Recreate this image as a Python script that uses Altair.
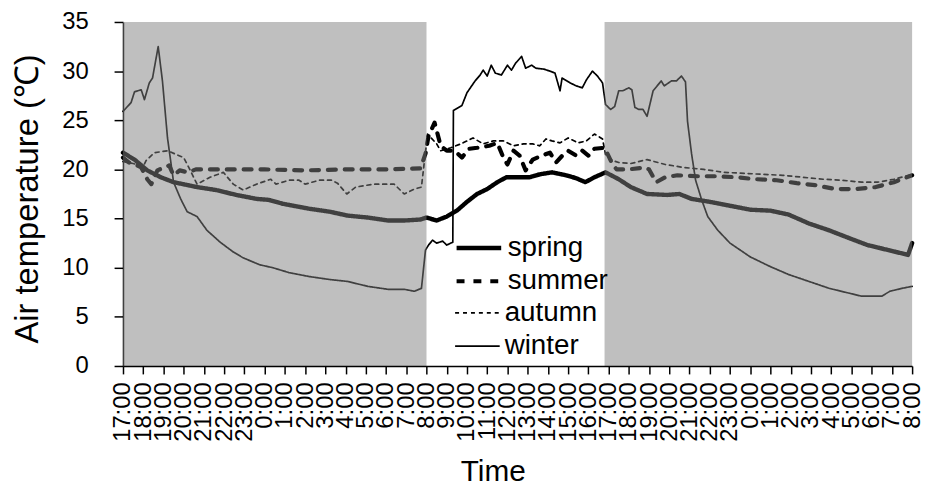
import altair as alt
import pandas as pd

seasons = ["spring", "summer", "autumn", "winter"]
line_widths = [4.4, 4.2, 1.7, 1.7]
line_dashes = [[1, 0], [8, 9], [4, 4], [1, 0]]

# hours after 17:00 of the first day (0 = 17:00, 15 = 8:00, 39 = 8:00 of the following morning)
spring_h = [0.0, 0.57, 1.2, 1.87, 2.5, 3.66, 4.6, 5.6, 6.6, 7.2, 7.9, 9.2, 10.2, 11.1, 12.1, 13.1, 13.9, 14.7,
            15.0, 15.5, 16.0, 16.5, 17.0, 17.5, 18.0, 18.5, 18.95, 20.1, 20.6, 21.2, 21.9, 22.4, 22.85, 23.3,
            23.85, 24.5, 25.1, 25.9, 26.9, 27.5, 28.1, 29.0, 30.0, 31.0, 32.0, 32.9, 33.9, 34.9, 35.9, 36.8,
            37.8, 38.8, 39.0]
spring_t = [21.7, 21.0, 19.9, 19.2, 18.7, 18.2, 17.9, 17.4, 17.0, 16.9, 16.5, 16.0, 15.7, 15.3, 15.1, 14.8, 14.8,
            14.9, 15.1, 14.8, 15.2, 15.8, 16.7, 17.5, 18.0, 18.7, 19.2, 19.2, 19.5, 19.7, 19.4, 19.1, 18.7, 19.2,
            19.7, 19.0, 18.2, 17.5, 17.4, 17.5, 17.0, 16.7, 16.3, 15.9, 15.8, 15.4, 14.5, 13.8, 13.0, 12.3,
            11.8, 11.3, 12.5]

summer_h = [0.0, 0.3, 0.6, 0.9, 1.2, 1.4, 1.7, 2.28, 2.5, 2.8, 3.2, 3.6, 5.0, 7.0, 9.0, 11.0, 13.0, 14.7, 14.95,
            15.1, 15.4, 15.7, 16.0, 16.4, 16.75, 17.1, 17.5, 18.1, 18.5, 18.8, 19.0, 19.3, 19.6, 19.9, 20.25,
            20.7, 21.1, 21.4, 21.8, 22.0, 22.4, 22.7, 23.0, 23.3, 23.8, 24.2, 24.4, 25.0, 25.8, 26.0, 26.35,
            26.8, 27.4, 28.4, 29.4, 30.3, 31.3, 32.3, 33.3, 34.2, 35.2, 36.2, 37.2, 38.1, 39.0]
summer_t = [21.2, 20.7, 20.5, 20.2, 19.0, 18.5, 19.9, 20.4, 19.4, 19.9, 19.7, 20.0, 20.0, 20.0, 19.9, 20.0, 20.0,
            20.1, 21.6, 23.4, 24.75, 22.4, 21.9, 21.9, 21.2, 22.1, 22.2, 22.4, 22.7, 21.2, 20.5, 21.9, 21.4,
            19.9, 21.0, 21.4, 21.7, 20.7, 21.6, 21.9, 21.4, 21.9, 21.4, 22.1, 22.2, 20.5, 20.0, 20.0, 20.2,
            20.0, 18.7, 19.2, 19.4, 19.3, 19.3, 19.2, 19.0, 18.9, 18.6, 18.4, 18.0, 18.0, 18.2, 18.7, 19.4]

autumn_h = [0.0, 0.5, 1.0, 1.14, 1.55, 2.2, 3.0, 3.25, 3.66, 4.3, 4.96, 5.45, 5.94, 6.6, 7.3, 7.56, 8.2, 8.7,
            9.0, 9.7, 10.3, 10.6, 11.06, 11.5, 12.4, 13.4, 13.9, 14.4, 14.75, 15.05, 15.5, 15.7, 16.2, 16.7,
            17.0, 17.3, 17.8, 18.3, 18.8, 19.3, 19.8, 20.25, 20.6, 20.9, 21.2, 21.6, 22.0, 22.5, 22.9, 23.3,
            23.7, 23.85, 24.2, 24.5, 25.1, 25.9, 26.8, 27.7, 28.7, 29.7, 30.7, 31.6, 32.6, 33.6, 34.6, 35.5,
            36.5, 37.3, 38.1, 39.0]
autumn_t = [20.8, 20.6, 20.3, 20.9, 21.7, 21.9, 21.2, 20.2, 18.5, 19.2, 19.7, 18.5, 17.9, 18.5, 19.0, 18.5,
            18.9, 18.9, 18.5, 18.9, 18.9, 18.6, 17.5, 18.2, 18.5, 18.5, 17.5, 18.0, 18.2, 23.6, 22.6, 21.9,
            22.2, 22.6, 22.9, 23.2, 22.6, 22.9, 22.9, 22.4, 22.6, 22.6, 22.4, 23.1, 22.9, 22.7, 23.2, 22.7,
            22.9, 23.6, 23.1, 21.5, 20.9, 20.7, 20.6, 21.0, 20.5, 20.2, 20.0, 19.7, 19.6, 19.5, 19.4, 19.2,
            19.0, 18.9, 18.7, 18.7, 19.0, 19.5]

winter_h = [0.0, 0.4, 0.57, 0.9, 1.06, 1.3, 1.46, 1.74, 1.95, 2.2, 2.5, 2.85, 3.17, 3.66, 4.15, 4.8, 5.45, 5.94,
            6.75, 7.4, 8.2, 9.2, 10.2, 11.1, 12.1, 13.1, 13.9, 14.4, 14.75, 14.95, 15.1, 15.3, 15.5, 15.8, 16.0,
            16.3, 16.33, 16.75, 17.0, 17.4, 17.65, 17.8, 18.0, 18.2, 18.4, 18.7, 19.0, 19.2, 19.4, 19.7, 19.9,
            20.2, 20.4, 20.8, 21.1, 21.35, 21.6, 21.7, 22.1, 22.4, 22.7, 22.9, 23.2, 23.45, 23.7, 23.85, 24.1,
            24.3, 24.5, 24.7, 25.0, 25.15, 25.3, 25.5, 25.7, 25.9, 26.2, 26.6, 26.75, 27.1, 27.35, 27.6, 27.8,
            27.9, 28.1, 28.3, 28.6, 28.9, 29.4, 30.0, 31.0, 32.0, 32.9, 33.9, 34.9, 35.9, 36.5, 37.5, 37.9,
            38.5, 39.0]
winter_t = [25.9, 26.8, 27.9, 28.1, 27.1, 28.8, 29.3, 32.5, 29.0, 23.2, 18.7, 17.0, 15.7, 15.2, 13.8, 12.6, 11.6,
            11.0, 10.3, 10.0, 9.5, 9.1, 8.8, 8.6, 8.1, 7.8, 7.8, 7.6, 7.9, 11.8, 12.3, 12.8, 12.5, 12.7, 12.3,
            12.6, 26.0, 26.5, 27.8, 29.0, 29.6, 30.1, 29.5, 30.6, 29.8, 29.6, 30.6, 30.1, 30.8, 31.5, 30.3,
            30.6, 30.3, 30.2, 30.0, 29.8, 28.0, 29.3, 28.8, 28.5, 28.3, 29.1, 30.0, 29.5, 28.8, 26.6, 26.1,
            26.4, 28.0, 28.0, 28.3, 28.1, 26.3, 26.1, 26.1, 25.4, 28.0, 29.0, 28.5, 29.0, 29.0, 29.5, 28.9,
            24.9, 21.6, 18.9, 16.9, 15.2, 13.8, 12.5, 11.1, 10.1, 9.3, 8.6, 7.9, 7.4, 7.1, 7.1, 7.6,
            7.9, 8.1]

night_start = [0.0, 23.8]
night_end = [15.0, 39.0]

hour_ticks = list(range(0, 40))
y_ticks = [0, 5, 10, 15, 20, 25, 30, 35]

series = {
    "spring": (spring_h, spring_t),
    "summer": (summer_h, summer_t),
    "autumn": (autumn_h, autumn_t),
    "winter": (winter_h, winter_t),
}
rows = []
for name, (hs, ts) in series.items():
    for i, (h, t) in enumerate(zip(hs, ts)):
        rows.append({"season": name, "h": h, "t": t, "i": i})
df = pd.DataFrame(rows)
nights = pd.DataFrame({"start": night_start, "end": night_end})

FONT = "Liberation Sans"
Y_TITLE = "Air temperature (℃)"

x_axis = alt.Axis(values=hour_ticks, labelExpr="((17 + datum.value) % 24) + ':00'", labelAngle=270,
                  labelFontSize=24, labelPadding=8, tickSize=8, labelOverlap=False, labelFlush=False,
                  titleFontSize=30, titleX=373, titleY=116, titleBaseline="alphabetic", zindex=1,
                  domainWidth=1.5, tickWidth=1.5)
y_axis = alt.Axis(values=y_ticks, labelFontSize=24, labelPadding=26, tickSize=9, titleFontSize=33,
                  titleX=-79, titleY=178, titleAngle=270, titleBaseline="bottom", titleAlign="center",
                  zindex=0, domainWidth=1.5, tickWidth=1.5)

x_scale = alt.Scale(domain=[0, 39], nice=False, zero=False)
y_scale = alt.Scale(domain=[0, 35], nice=False)
x_enc = alt.X("h:Q", scale=x_scale, axis=x_axis, title="Time")
y_enc = alt.Y("t:Q", scale=y_scale, axis=y_axis, title=Y_TITLE)

LEG_X = 334
LEG_Y = 203
ROW = 33.5
SYMBOL_LEN = 45

layers = []
for k, (name, width, dash) in enumerate(zip(seasons, line_widths, line_dashes)):
    leg = alt.Legend(title=None, orient="none", legendX=LEG_X, legendY=LEG_Y + k * ROW, symbolType="stroke",
                     symbolSize=SYMBOL_LEN ** 2, symbolStrokeWidth=width, symbolStrokeColor="black",
                     labelFontSize=28, labelFont=FONT, labelOffset=4, padding=0, labelColor="black")
    layers.append(
        alt.Chart(df[df["season"] == name]).mark_line(
            color="black", strokeWidth=width, strokeCap="round", strokeJoin="round").encode(
            x=x_enc,
            y=y_enc,
            strokeDash=alt.StrokeDash("season:N", scale=alt.Scale(domain=[name], range=[dash]), legend=leg),
            order="i:Q",
        )
    )

shade = alt.Chart(nights).mark_rect(color="#808080", opacity=0.5).encode(
    x=alt.X("start:Q", scale=x_scale, axis=x_axis, title="Time"),
    x2="end:Q",
    y=alt.Y(datum=0, scale=y_scale, axis=y_axis, title=Y_TITLE),
    y2=alt.datum(35),
)

chart = alt.layer(*layers, shade).resolve_scale(strokeDash="independent").resolve_legend(
    strokeDash="independent").properties(
    width=796, height=347,
    autosize=alt.AutoSizeParams(type="none"),
    padding={"left": 116, "top": 12, "right": 13, "bottom": 122},
).configure(font=FONT).configure_view(stroke="transparent").configure_axis(
    grid=False, domainColor="black", tickColor="black", labelColor="black", titleColor="black",
    labelFont=FONT, titleFont=FONT, titleFontWeight="normal"
)

chart.save("out.html", embed_options={"renderer": "svg", "actions": False})
